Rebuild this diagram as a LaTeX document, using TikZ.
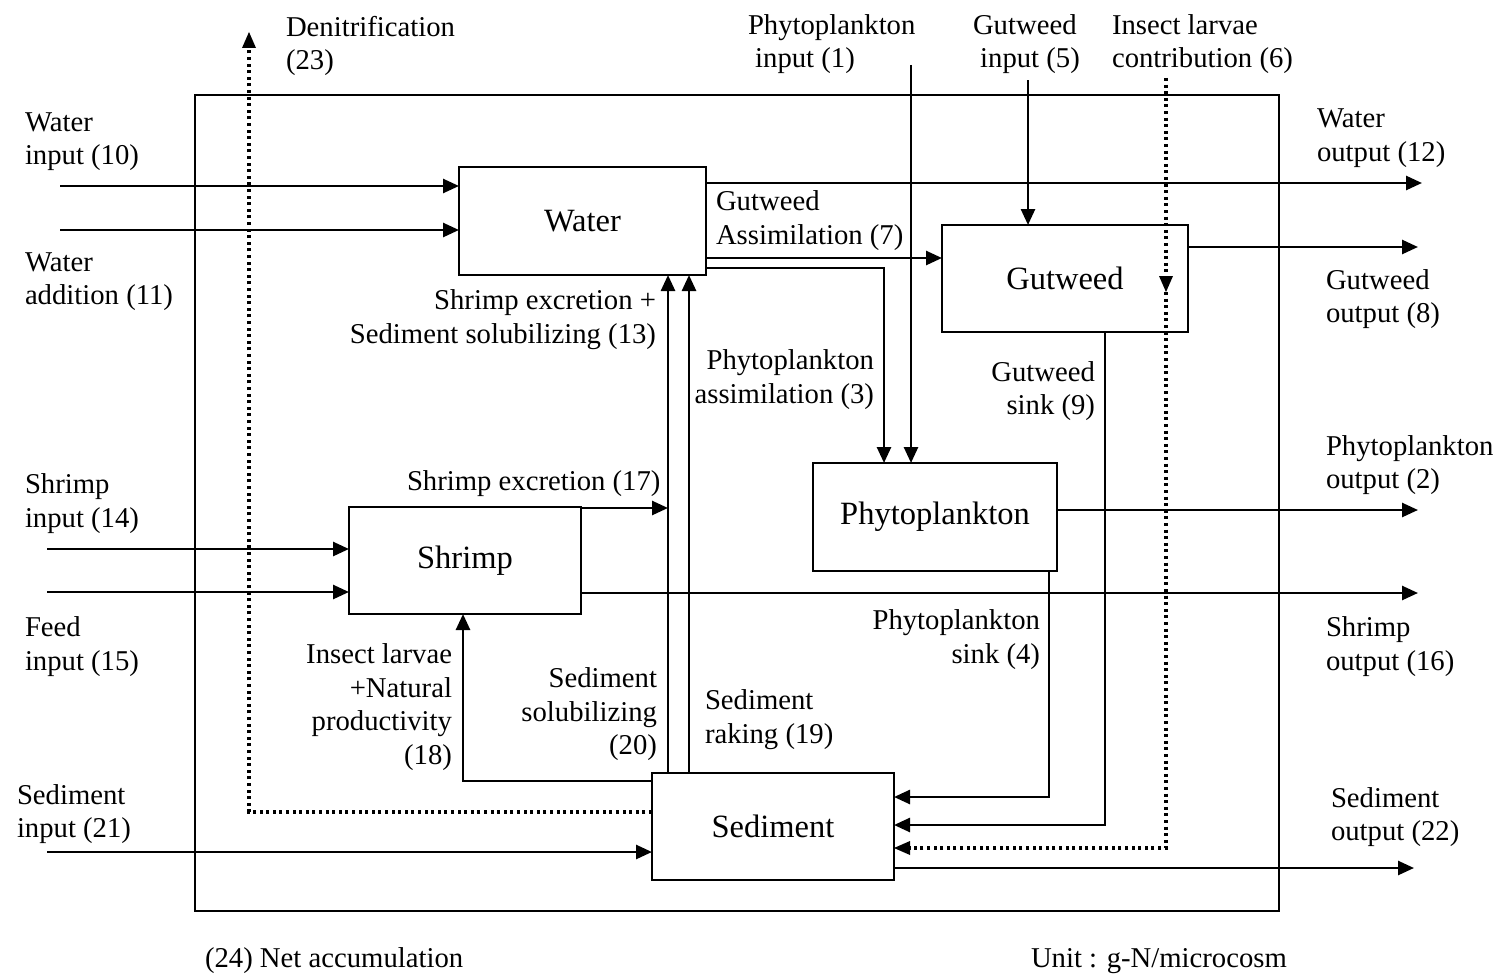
\documentclass[tikz,border=0pt]{standalone}
\usepackage{fontspec}
\setmainfont{Liberation Serif}
\usetikzlibrary{arrows.meta}
\begin{document}
\begin{tikzpicture}[x=1pt,y=-1pt,
  every node/.style={inner sep=0pt,outer sep=0pt},
  lbl/.style={font=\fontsize{28.7}{33.5}\selectfont, align=left, yshift=-3pt},
  lblr/.style={font=\fontsize{28.7}{33.5}\selectfont, align=right, yshift=-3pt},
  box/.style={draw, line width=2pt, font=\fontsize{32.5}{36}\selectfont},
  arr/.style={line width=2.6pt, -{Triangle[length=16pt,width=14pt]}},
  dots/.style={line width=3.2pt, dash pattern=on 3pt off 3.6pt},
  darr/.style={dots, -{Triangle[length=16pt,width=14pt,line width=0pt]}}
]
\useasboundingbox (0,0) rectangle (1499,974);
\fill[white] (0,0) rectangle (1499,974);
% frame
\draw[line width=2pt] (195,95) rectangle (1279,911);
% boxes
\node[box, minimum width=247pt, minimum height=108pt] (water) at (582.5,221) {Water};
\node[box, minimum width=246pt, minimum height=107pt] (gut) at (1065,278.5) {Gutweed};
\node[box, minimum width=244pt, minimum height=108pt] (phy) at (935,517) {Phytoplankton};
\node[box, minimum width=232pt, minimum height=107pt] (shr) at (465,560.5) {Shrimp};
\node[box, minimum width=242pt, minimum height=107pt] (sed) at (773,826.5) {Sediment};
% free-end coordinates
\coordinate (win) at (60,186);
\coordinate (wadd) at (60,230);
\coordinate (wout) at (1422,183);
\coordinate (phin) at (911,65);
\coordinate (gin) at (1028,80);
\coordinate (ilc) at (1166,78);
\coordinate (ilcm) at (1166,292);
\coordinate (ilcb) at (1166,848);
\coordinate (gout) at (1418,247);
\coordinate (pout) at (1418,510);
\coordinate (sout) at (1418,593);
\coordinate (sin) at (47,549);
\coordinate (fin) at (47,592);
\coordinate (sedin) at (47,852);
\coordinate (sedout) at (1414,868);
\coordinate (den) at (249,32);
\coordinate (exc) at (668,508);
% water flows
\draw[arr] (win) -- (win -| water.west);
\draw[arr] (wadd) -- (wadd -| water.west);
\draw[arr] (water.east |- wout) -- (wout);
\draw[arr] (water.east |- 0,258) -- (gut.west |- 0,258);
\draw[arr] (water.east |- 0,268) -| (phy.north -| 884,0);
\draw[arr] (phin) -- (phin |- phy.north);
\draw[arr] (gin) -- (gin |- gut.north);
% insect larvae contribution (dotted)
\draw[darr] (ilc) -- (ilcm);
\draw[darr] (ilcm) -- (ilcb) -- (ilcb -| sed.east);
% outputs
\draw[arr] (gut.east |- gout) -- (gout);
\draw[arr] (phy.east |- pout) -- (pout);
\draw[arr] (shr.east |- sout) -- (sout);
\draw[arr] (sed.east |- sedout) -- (sedout);
% sinks
\draw[arr] (gut.south -| 1105,0) |- (sed.east |- 0,825);
\draw[arr] (phy.south -| 1049,0) |- (sed.east |- 0,797);
% shrimp inputs
\draw[arr] (sin) -- (sin -| shr.west);
\draw[arr] (fin) -- (fin -| shr.west);
\draw[arr] (shr.east |- exc) -- (exc);
% sediment up to water
\draw[arr] (sed.north -| exc) -- (water.south -| exc);
\draw[arr] (sed.north -| 689,0) -- (water.south -| 689,0);
% insect larvae + natural productivity
\draw[arr] (sed.west |- 0,781) -| (shr.south -| 463,0);
% denitrification
\draw[darr] (sed.west |- 0,812) -| (den);
% sediment input
\draw[arr] (sedin) -- (sedin -| sed.west);
% labels
\node[lbl, anchor=west] (tden) at (286,43) {Denitrification\\(23)};
\node[lbl, anchor=west] (tphin) at (748,41) {Phytoplankton\\\ input (1)};
\node[lbl, anchor=west] (tgin) at (973,41) {Gutweed\\\ input (5)};
\node[lbl, anchor=west] (tilc) at (1112,41) {Insect larvae\\contribution (6)};
\node[lbl, anchor=west] (twin) at (25,138.5) {Water\\input (10)};
\node[lbl, anchor=west] (twadd) at (25,278.5) {Water\\addition (11)};
\node[lbl, anchor=west] (twout) at (1317,135) {Water\\output (12)};
\node[lbl, anchor=west] (tgas) at (716,217.5) {Gutweed\\Assimilation (7)};
\node[lblr, anchor=east] (t13) at (656,316.5) {Shrimp excretion +\\Sediment solubilizing (13)};
\node[lbl, anchor=west] (tgout) at (1326,296) {Gutweed\\output (8)};
\node[lblr, anchor=east] (tgs) at (1095,388) {Gutweed\\sink (9)};
\node[lblr, anchor=east] (tpas) at (874,376.5) {Phytoplankton\\assimilation (3)};
\node[lbl, anchor=west] (tpout) at (1326,462) {Phytoplankton\\output (2)};
\node[lbl, anchor=west] (texc) at (407,481) {Shrimp excretion (17)};
\node[lbl, anchor=west] (tsin) at (25,500.5) {Shrimp\\input (14)};
\node[lbl, anchor=west] (tfin) at (25,643.5) {Feed\\input (15)};
\node[lbl, anchor=west] (tsout) at (1326,643.5) {Shrimp\\output (16)};
\node[lblr, anchor=east] (tps) at (1040,636.5) {Phytoplankton\\sink (4)};
\node[lblr, anchor=east] (t18) at (452,704) {Insect larvae\\+Natural\\productivity\\(18)};
\node[lblr, anchor=east] (t20) at (657,711.5) {Sediment\\solubilizing\\(20)};
\node[lbl, anchor=west] (t19) at (705,716.5) {Sediment\\raking (19)};
\node[lbl, anchor=west] (tsedin) at (17,811) {Sediment\\input (21)};
\node[lbl, anchor=west] (tsedout) at (1331,814) {Sediment\\output (22)};
\node[lbl, anchor=west] (tnet) at (205,958) {(24) Net accumulation};
\node[lbl, anchor=west] (tunit) at (1031,958) {Unit : g-N/microcosm};
\end{tikzpicture}
\end{document}
